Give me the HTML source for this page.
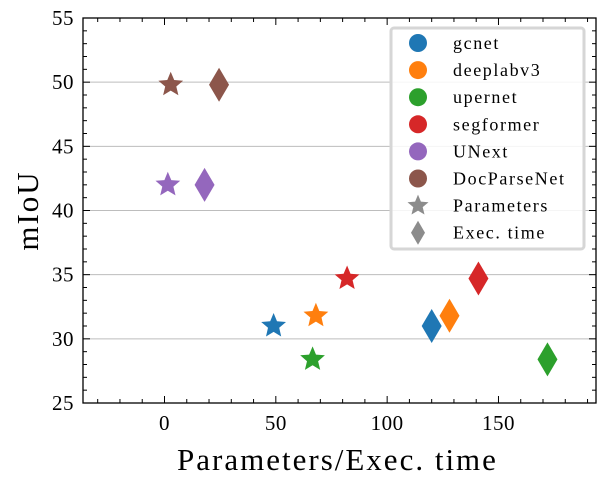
<!DOCTYPE html>
<html><head><meta charset="utf-8"><style>
html,body{margin:0;padding:0;background:#fff;}
svg{display:block;font-family:"Liberation Serif",serif;}
</style></head><body>
<svg id="chart" width="606" height="487"></svg>
<script>
const models = ["gcnet","deeplabv3","upernet","segformer","UNext","DocParseNet"];
const colors = ["#1f77b4","#ff7f0e","#2ca02c","#d62728","#9467bd","#8c564b"];
const paramX = [49, 68, 66.5, 82, 1.5, 2.8];
const execX = [120, 128, 172, 141, 18, 24.5];
const miou = [31, 31.8, 28.4, 34.7, 42, 49.8];
const xTicks = [0, 50, 100, 150];
const yTicks = [25, 30, 35, 40, 45, 50, 55];

const NS = "http://www.w3.org/2000/svg";
const svg = document.getElementById("chart");
const L = 83, R = 596, T = 18, B = 403;
const xMin = -36.6, xMax = 193.8, yMin = 25, yMax = 55;
const sx = v => L + (v - xMin) / (xMax - xMin) * (R - L);
const sy = v => B - (v - yMin) / (yMax - yMin) * (B - T);
function mk(tag, attrs, parent) {
  const e = document.createElementNS(NS, tag);
  for (const k in attrs) e.setAttribute(k, attrs[k]);
  (parent || svg).appendChild(e);
  return e;
}
yTicks.forEach(v => {
  if (v === yMin || v === yMax) return;
  const g = mk("line", {x1: L, x2: R, y1: sy(v), y2: sy(v), stroke: "#bdbdbd", "stroke-width": 1});
  
  
});
function starPath(cx, cy, r) {
  let d = "";
  for (let i = 0; i < 10; i++) {
    const rr = i % 2 ? r * 0.45 : r;
    const a = -Math.PI / 2 + i * Math.PI / 5;
    d += (i ? "L" : "M") + (cx + rr * Math.cos(a)).toFixed(1) + " " + (cy + rr * Math.sin(a)).toFixed(1);
  }
  return d + "Z";
}
function diamondPath(cx, cy, w, h) {
  return `M${cx} ${cy - h}L${cx + w} ${cy}L${cx} ${cy + h}L${cx - w} ${cy}Z`;
}
models.forEach((m, i) => {
  const s = mk("path", {d: starPath(sx(paramX[i]), sy(miou[i]), 13), fill: colors[i]});
  
  
  const d = mk("path", {d: diamondPath(sx(execX[i]), sy(miou[i]), 10, 17), fill: colors[i]});
  
  
});
const fr = mk("rect", {x: L, y: T, width: R - L, height: B - T, fill: "none", stroke: "#000", "stroke-width": 1.3});


for (let v = -30; v <= 190; v += 10) {
  const major = v % 50 === 0;
  const len = major ? 7 : 4;
  mk("line", {x1: sx(v), x2: sx(v), y1: B, y2: B - len, stroke: "#000", "stroke-width": 1});
  mk("line", {x1: sx(v), x2: sx(v), y1: T, y2: T + len, stroke: "#000", "stroke-width": 1});
}
xTicks.forEach(v => {
  const t = mk("text", {x: sx(v), y: B + 27, "text-anchor": "middle", "font-size": 21, "letter-spacing": 0.5});
  t.textContent = v;
  
  
});
for (let v = 25; v <= 55; v += 1) {
  const major = v % 5 === 0;
  const len = major ? 7 : 4;
  mk("line", {x1: L, x2: L + len, y1: sy(v), y2: sy(v), stroke: "#000", "stroke-width": 1});
  mk("line", {x1: R, x2: R - len, y1: sy(v), y2: sy(v), stroke: "#000", "stroke-width": 1});
}
yTicks.forEach(v => {
  const t = mk("text", {x: L - 9, y: sy(v) + 7, "text-anchor": "end", "font-size": 21, "letter-spacing": 0.5});
  t.textContent = v;
  
  
});
const xt = mk("text", {x: (L + R) / 2 - 2, y: 470, "text-anchor": "middle", "font-size": 31, "letter-spacing": 2});
xt.textContent = "Parameters/Exec. time";


const yt = mk("text", {x: 0, y: 0, "text-anchor": "middle", "font-size": 31, "letter-spacing": 2, transform: `translate(38,${(T + B) / 2}) rotate(-90)`});
yt.textContent = "mIoU";


const lg = mk("g", {});


mk("rect", {x: 391, y: 28, width: 193, height: 221, rx: 3, fill: "rgba(255,255,255,0.85)", stroke: "#d6d6d6", "stroke-width": 3}, lg);
const labels = models.concat(["Parameters", "Exec. time"]);
labels.forEach((lab, i) => {
  const cy = 43 + i * 27.1;
  let e;
  if (i < 6) e = mk("circle", {cx: 418, cy: cy, r: 9, fill: colors[i]}, lg);
  else if (i === 6) e = mk("path", {d: starPath(418, cy, 11), fill: "#8c8c8c"}, lg);
  else e = mk("path", {d: diamondPath(418, cy, 7, 12), fill: "#8c8c8c"}, lg);
  
  
  const t = mk("text", {x: 453, y: cy + 6, "font-size": 18, "letter-spacing": 1.6}, lg);
  t.textContent = lab;
  
  
});
</script>
</body></html>
